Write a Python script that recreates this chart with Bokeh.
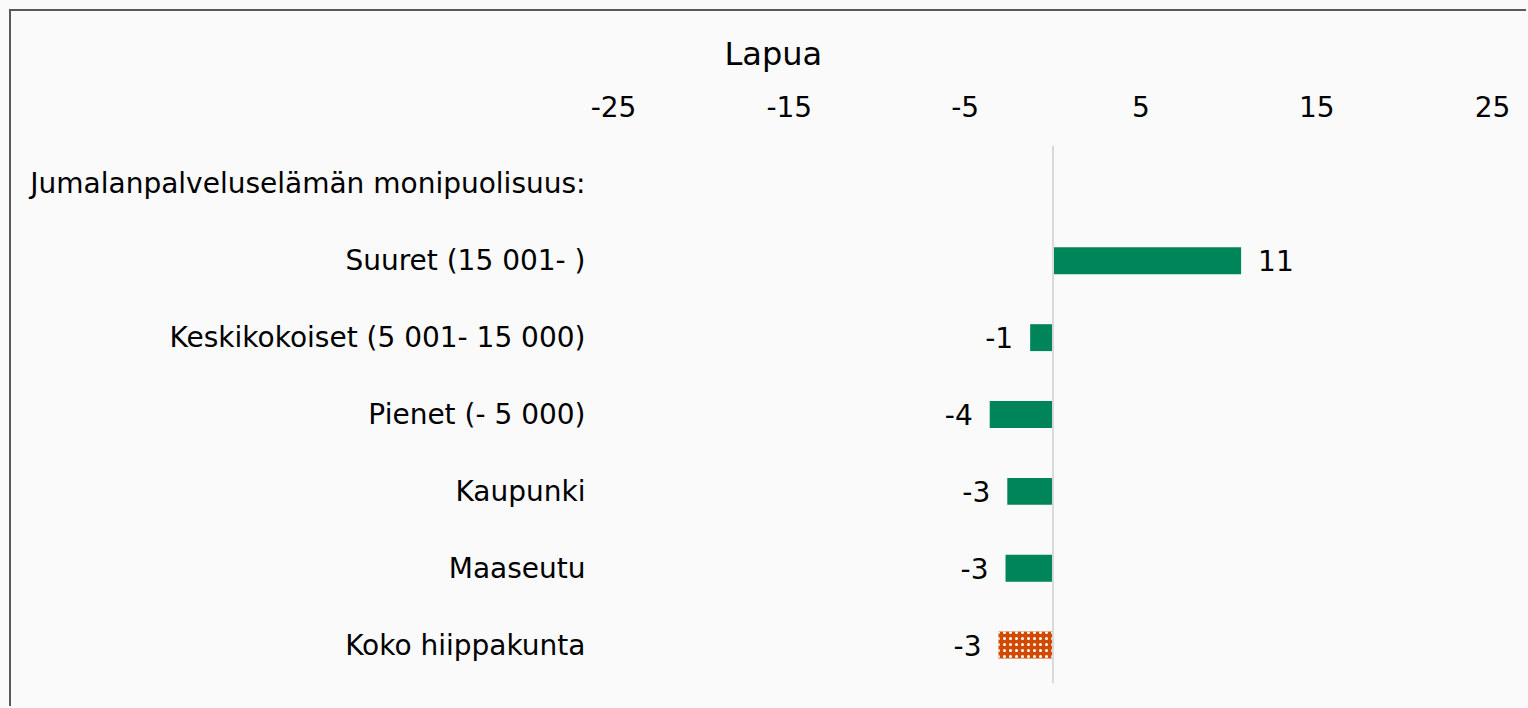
from bokeh.plotting import figure
from bokeh.models import ColumnDataSource, Span, FixedTicker
from bokeh.embed import file_html
from bokeh.resources import INLINE
from bokeh.core.properties import value

# ---- data ----
header = "Jumalanpalveluselämän monipuolisuus:"
categories = ["Suuret (15 001- )", "Keskikokoiset (5 001- 15 000)", "Pienet (- 5 000)",
              "Kaupunki", "Maaseutu", "Koko hiippakunta"]
values = [10.7, -1.3, -3.6, -2.6, -2.7, -3.1]
highlight = [False, False, False, False, False, True]
x_ticks = [-25, -15, -5, 5, 15, 25]
title = "Lapua"

GREEN = "#00855a"
ORANGE = "#d04a02"
FONT = "DejaVu Sans"
BG = "#fafafa"

factors = list(reversed([header] + categories))

p = figure(width=1517, height=697, y_range=factors, x_range=(-25, 25),
           x_axis_location="above", output_backend="svg", toolbar_location=None,
           min_border_left=602, min_border_right=36, min_border_top=134, min_border_bottom=25)
p.styles = {"border-left": "2px solid #595959", "border-top": "2px solid #595959"}
p.background_fill_color = BG
p.border_fill_color = BG
p.outline_line_color = None
p.xgrid.grid_line_color = None
p.ygrid.grid_line_color = None

p.title.text = title
p.title.align = "left"
p.title.offset = 111
p.title.text_font = FONT
p.title.text_font_size = "32px"
p.title.text_font_style = "normal"
p.title.text_color = "black"
p.title.standoff = 39

xa = p.xaxis[0]
xa.ticker = FixedTicker(ticks=x_ticks)
xa.major_label_overrides = {t: str(t) for t in x_ticks}
xa.axis_line_color = None
xa.major_tick_line_color = None
xa.minor_tick_line_color = None
xa.major_label_text_font = FONT
xa.major_label_text_font_size = "28px"
xa.major_label_text_color = "black"
xa.major_label_standoff = 23

ya = p.yaxis[0]
ya.axis_line_color = None
ya.major_tick_line_color = None
ya.minor_tick_line_color = None
ya.major_label_text_font = FONT
ya.major_label_text_font_size = "28px"
ya.major_label_text_color = "black"
ya.major_label_standoff = 22

p.add_layout(Span(location=0, dimension="height", line_color="#d9d9d9", line_width=2))

norm_cat = [c for c, h in zip(categories, highlight) if not h]
norm_val = [v for v, h in zip(values, highlight) if not h]
hi_cat = [c for c, h in zip(categories, highlight) if h]
hi_val = [v for v, h in zip(values, highlight) if h]

p.hbar(y=norm_cat, left=0, right=norm_val, height=0.35, fill_color=GREEN, line_color=None)
p.hbar(y=hi_cat, left=0, right=hi_val, height=0.35, fill_color=ORANGE, line_color=None,
       hatch_pattern="dot", hatch_color="white", hatch_scale=6, hatch_weight=1.5)

pos = ColumnDataSource(dict(y=[c for c, v in zip(categories, values) if v >= 0],
                            x=[v for v in values if v >= 0],
                            t=[str(round(v)) for v in values if v >= 0]))
neg = ColumnDataSource(dict(y=[c for c, v in zip(categories, values) if v < 0],
                            x=[v for v in values if v < 0],
                            t=[str(round(v)) for v in values if v < 0]))
p.text(x="x", y="y", text="t", source=pos, x_offset=17, text_align="left",
       text_baseline="middle", text_font=value(FONT), text_font_size="28px", text_color="black")
p.text(x="x", y="y", text="t", source=neg, x_offset=-17, text_align="right",
       text_baseline="middle", text_font=value(FONT), text_font_size="28px", text_color="black")

html = file_html(p, INLINE)
html = html.replace("</head>",
                    "<style>html, body { background:#fafafa !important; }"
                    " body { padding: 9px 0 0 9px !important; margin: 0 !important; }</style></head>", 1)
open("out.html", "w").write(html)
